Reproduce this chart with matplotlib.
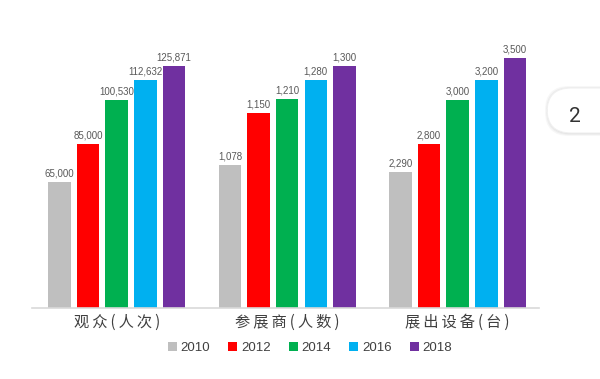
import matplotlib
matplotlib.use("Agg")
import matplotlib.pyplot as plt
from matplotlib.patches import Patch, FancyBboxPatch
import numpy as np

# categories, years and the printed values
categories = ["观众(人次)", "参展商(人数)", "展出设备(台)"]
years = ["2010", "2012", "2014", "2016", "2018"]
value_labels = [
    ["65,000", "85,000", "100,530", "112,632", "125,871"],
    ["1,078", "1,150", "1,210", "1,280", "1,300"],
    ["2,290", "2,800", "3,000", "3,200", "3,500"],
]
# bar heights as drawn (each group is not to a common scale)
bar_heights = [
    [126, 164, 208, 228, 242],
    [143, 195, 209, 228, 242],
    [136, 164, 208, 228, 250],
]

YEAR_COLORS = ["#bfbfbf", "#ff0000", "#00b050", "#00b0f0", "#7030a0"]
INK = "#404040"
LABEL_INK = "#595959"
BASELINE = "#d9d9d9"
CJK = ["Noto Sans CJK SC", "DejaVu Sans"]
NARROW = ["Liberation Sans Narrow", "Liberation Sans", "DejaVu Sans"]

W, H = 600, 379
fig = plt.figure(figsize=(W / 100, H / 100), dpi=100)
fig.patch.set_facecolor("white")

# axes in pixel terms: x 32..539, baseline at 307.7, top at 30
ax = fig.add_axes([32 / W, 1 - 307.7 / H, (539 - 32) / W, (307.7 - 30) / H])
ax.set_facecolor("white")

bar_pitch = 0.1677
bar_w = 0.132
x = np.arange(len(categories))
for j, (yr, col) in enumerate(zip(years, YEAR_COLORS)):
    hs = [bar_heights[i][j] for i in range(len(categories))]
    xs = x + (j - 2) * bar_pitch
    ax.bar(xs, hs, width=bar_w, color=col, zorder=2, label=yr)
    for i in range(len(categories)):
        ax.annotate(value_labels[i][j], xy=(xs[i], hs[i]), xytext=(0, 2),
                    textcoords="offset points", ha="center", va="bottom",
                    fontsize=7, color=LABEL_INK, family=NARROW)

ax.set_xlim(-0.497, 2.477)
ax.set_ylim(0, 277.7)
for s in ("top", "right", "left"):
    ax.spines[s].set_visible(False)
ax.spines["bottom"].set_color(BASELINE)
ax.spines["bottom"].set_linewidth(1.2)
ax.set_xticks([])
ax.set_yticks([])

# slightly letter-spaced category names
for i, cat in enumerate(categories):
    spaced = "\u2009".join(cat)
    ax.text(x[i], -14.5, spaced, ha="center", va="center", fontsize=11,
            color=INK, family=CJK, fontweight="medium")

handles = [Patch(facecolor=c, edgecolor="none", label=y)
           for y, c in zip(years, YEAR_COLORS)]
fig.legend(handles=handles, loc="center", ncol=5,
           bbox_to_anchor=(310 / W, 1 - 348 / H), frameon=False,
           prop={"family": NARROW, "size": 9.5}, labelcolor=INK,
           handlelength=0.68, handleheight=0.68, handletextpad=0.3,
           columnspacing=1.36, borderpad=0)

# page-number tab at the right edge
for k, a in enumerate([0.05, 0.04, 0.03]):
    sh = FancyBboxPatch(((547 - k) / W, 1 - (134 + k) / H), 80 / W, (46 + 2 * k) / H,
                        boxstyle="round,pad=0,rounding_size=0.04",
                        transform=fig.transFigure, facecolor="black",
                        edgecolor="none", alpha=a, zorder=5,
                        mutation_aspect=W / H)
    fig.patches.append(sh)
tab = FancyBboxPatch((547 / W, 1 - 133 / H), 80 / W, 45 / H,
                     boxstyle="round,pad=0,rounding_size=0.04",
                     transform=fig.transFigure, facecolor="white",
                     edgecolor="#f0f0f0", linewidth=0.8, zorder=6,
                     mutation_aspect=W / H)
fig.patches.append(tab)
fig.text(575 / W, 1 - 116 / H, "2", ha="center", va="center", fontsize=15,
         color="#333333", family=["Roboto", "DejaVu Sans"], zorder=7)

fig.savefig("out.png", dpi=100, facecolor="white")
